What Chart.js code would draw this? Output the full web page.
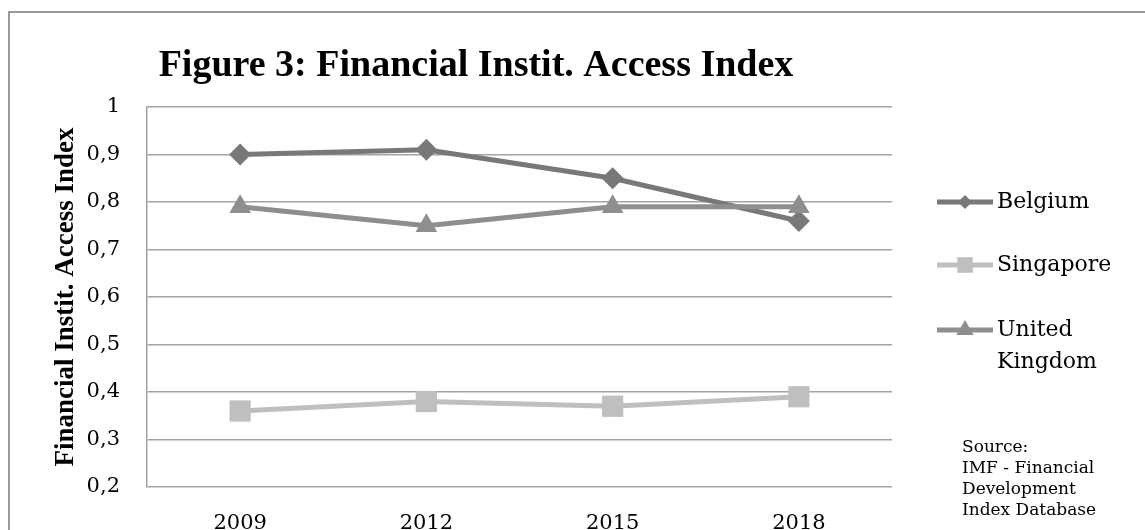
<!DOCTYPE html>
<html>
<head>
<meta charset="utf-8">
<script src="https://cdn.jsdelivr.net/npm/chart.js@4/dist/chart.umd.min.js"></script>
<style>
  html, body { margin: 0; padding: 0; background: #fff; }
  #wrap { position: relative; width: 1145px; height: 530px; }
</style>
</head>
<body>
<div id="wrap"><canvas id="chart"></canvas></div>
<script>
/* ─── Data ─────────────────────────────────────── */
const YEARS     = ['2009', '2012', '2015', '2018'];
const BELGIUM   = [0.90, 0.91, 0.85, 0.76];
const SINGAPORE = [0.36, 0.38, 0.37, 0.39];
const UK        = [0.79, 0.75, 0.79, 0.79];
const Y_TICKS   = [0.2, 0.3, 0.4, 0.5, 0.6, 0.7, 0.8, 0.9, 1];

const TITLE   = 'Figure 3: Financial Instit. Access Index';
const Y_TITLE = 'Financial Instit. Access Index';
const SOURCE  = ['Source:', 'IMF - Financial', 'Development', 'Index Database'];

/* ─── Style ────────────────────────────────────── */
const SERIF      = '"DejaVu Serif", "Liberation Serif", serif';
const SERIF_BOLD = '"Liberation Serif", "DejaVu Serif", serif';
const GRID       = '#a3a3a3';

const SERIES = [
  { label: 'Belgium',   lines: ['Belgium'],           data: BELGIUM,   color: '#787878', style: 'rectRot',  r: 11,   lr: 7,  order: 2 },
  { label: 'Singapore', lines: ['Singapore'],         data: SINGAPORE, color: '#bfbfbf', style: 'rect',     r: 15,   lr: 11, order: 1 },
  { label: 'United Kingdom', lines: ['United', 'Kingdom'], data: UK,   color: '#8e8e8e', style: 'triangle', r: 12.5, lr: 10, order: 0 },
];

function fmtTick(v) {
  const t = Y_TICKS.find(x => Math.abs(x - v) < 1e-6);
  if (t === undefined) return '';
  return t === 1 ? '1' : t.toFixed(1).replace('.', ',');
}

/* ─── Decorations: frame, titles, legend, source ─ */
const decor = {
  id: 'decor',
  beforeDraw(chart) {
    const ctx = chart.ctx;
    ctx.save();
    ctx.fillStyle = '#fff';
    ctx.fillRect(0, 0, chart.width, chart.height);
    ctx.strokeStyle = '#9a9a9a';
    ctx.lineWidth = 2;
    ctx.beginPath();
    ctx.moveTo(9, 530);
    ctx.lineTo(9, 12);
    ctx.lineTo(1145, 12);
    ctx.stroke();
    ctx.restore();
  },
  afterDraw(chart) {
    const ctx = chart.ctx;
    const area = chart.chartArea;
    ctx.save();
    ctx.fillStyle = '#000';

    // title
    ctx.font = 'bold 38px ' + SERIF_BOLD;
    ctx.textAlign = 'center';
    ctx.textBaseline = 'alphabetic';
    ctx.fillText(TITLE, 476, 76);

    // y axis title
    ctx.save();
    ctx.translate(66, (area.top + area.bottom) / 2);
    ctx.rotate(-Math.PI / 2);
    ctx.font = 'bold 27px ' + SERIF_BOLD;
    ctx.textBaseline = 'middle';
    ctx.fillText(Y_TITLE, 0, 0);
    ctx.restore();

    // legend
    const rows = [202, 265, 330];
    SERIES.forEach((s, i) => {
      const y = rows[i];
      ctx.strokeStyle = s.color;
      ctx.lineWidth = 5;
      ctx.beginPath();
      ctx.moveTo(937, y);
      ctx.lineTo(993, y);
      ctx.stroke();
      ctx.fillStyle = s.color;
      Chart.helpers.drawPoint(ctx, { pointStyle: s.style, radius: s.lr, rotation: 0, borderWidth: 0 }, 965, y);
      ctx.fillStyle = '#000';
      ctx.font = '22px ' + SERIF;
      ctx.textAlign = 'left';
      ctx.textBaseline = 'middle';
      s.lines.forEach((t, j) => ctx.fillText(t, 997, y + j * 32));
    });

    // source note
    ctx.font = '17px ' + SERIF;
    ctx.textBaseline = 'alphabetic';
    SOURCE.forEach((t, j) => ctx.fillText(t, 962, 452 + j * 21));
    ctx.restore();
  },
};

/* ─── Chart ────────────────────────────────────── */
new Chart(document.getElementById('chart'), {
  type: 'line',
  data: {
    labels: YEARS,
    datasets: SERIES.map(s => ({
      label: s.label,
      data: s.data,
      order: s.order,
      borderColor: s.color,
      backgroundColor: s.color,
      borderWidth: 5,
      pointStyle: s.style,
      pointRadius: s.r,
      pointHoverRadius: s.r,
      pointBorderWidth: 0,
      pointBackgroundColor: s.color,
      tension: 0,
    })),
  },
  options: {
    responsive: true,
    maintainAspectRatio: false,
    animation: false,
    events: [],
    layout: { padding: { left: 0, top: 107, right: 253, bottom: 0 } },
    plugins: {
      legend: { display: false },
      title: { display: false },
      tooltip: { enabled: false },
    },
    scales: {
      x: {
        offset: true,
        grid: { display: false, drawTicks: false },
        border: { display: false },
        ticks: { color: '#000', padding: 24, font: { family: SERIF, size: 21 } },
        afterFit: s => { s.height = 43; },
      },
      y: {
        min: 0.2,
        max: 1,
        afterBuildTicks: s => { s.ticks = Y_TICKS.map(v => ({ value: v })); },
        grid: { color: GRID, lineWidth: 1.5, drawTicks: false },
        border: { display: true, color: GRID, width: 1.5 },
        ticks: { color: '#000', padding: 27, callback: fmtTick, font: { family: SERIF, size: 21 } },
        afterFit: s => { s.width = 147; },
      },
    },
  },
  plugins: [decor],
});
</script>
</body>
</html>
